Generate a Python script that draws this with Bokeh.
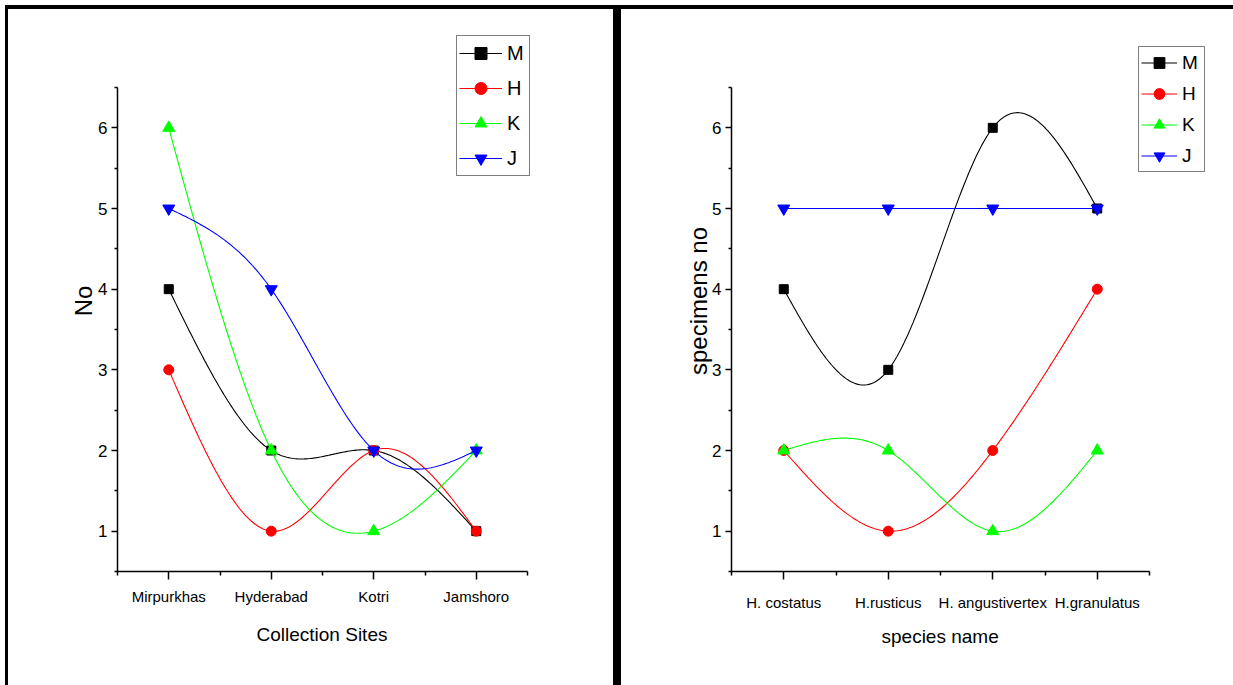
import numpy as np
from bokeh.plotting import figure
from bokeh.models import Legend, LegendItem, FixedTicker, Range1d, Div, Title
from bokeh.layouts import row, column
from bokeh.embed import file_html
from bokeh.resources import INLINE

# ---------------- data ----------------
sites = ["Mirpurkhas", "Hyderabad", "Kotri", "Jamshoro"]
species = ["H. costatus", "H.rusticus", "H. angustivertex", "H.granulatus"]
series_names = ["M", "H", "K", "J"]

site_M = [4, 2, 2, 1]
site_H = [3, 1, 2, 1]
site_K = [6, 2, 1, 2]
site_J = [5, 4, 2, 2]

species_M = [4, 3, 6, 5]
species_H = [2, 1, 2, 4]
species_K = [2, 2, 1, 2]
species_J = [5, 5, 5, 5]

y_ticks = [1, 2, 3, 4, 5, 6]

# ---------------- styles ----------------
COLORS = ["#000000", "#FF0000", "#00FF00", "#0000FF"]
MARKERS = ["square", "circle", "triangle", "inverted_triangle"]
SIZES = [9, 10, 12, 12]
FONT = "Liberation Sans"


def natural_spline(xs, ys, n=60):
    """Natural cubic spline through the data points (Origin's 'spline' connect)."""
    xs = np.asarray(xs, float)
    ys = np.asarray(ys, float)
    k = len(xs)
    h = np.diff(xs)
    A = np.zeros((k, k))
    b = np.zeros(k)
    A[0, 0] = 1
    A[-1, -1] = 1
    for i in range(1, k - 1):
        A[i, i - 1] = h[i - 1]
        A[i, i] = 2 * (h[i - 1] + h[i])
        A[i, i + 1] = h[i]
        b[i] = 6 * ((ys[i + 1] - ys[i]) / h[i] - (ys[i] - ys[i - 1]) / h[i - 1])
    M = np.linalg.solve(A, b)
    ox, oy = [], []
    for i in range(k - 1):
        t = np.linspace(0, 1, n)
        ox.extend(xs[i] + t * h[i])
        oy.extend((1 - t) * ys[i] + t * ys[i + 1]
                  + h[i] ** 2 / 6 * (((1 - t) ** 3 - (1 - t)) * M[i] + (t ** 3 - t) * M[i + 1]))
    return ox, oy


def make_panel(cats, series, xlabel, ylabel, width, height, ml, mr, mt, mb, x_end, y_end,
               leg_loc, leg_font, glyph_w, glyph_h, leg_spacing, xlab_standoff,
               xtitle_offset, xtitle_standoff, yaxis_label_standoff):
    p = figure(width=width, height=height,
               x_range=Range1d(0.5, x_end), y_range=Range1d(0.5, y_end),
               output_backend="svg", toolbar_location=None,
               min_border_left=ml, min_border_right=mr,
               min_border_top=mt, min_border_bottom=mb)
    p.outline_line_color = None
    p.xgrid.visible = False
    p.ygrid.visible = False
    p.background_fill_color = "white"
    p.border_fill_color = "white"

    xs = list(range(1, len(cats) + 1))
    p.xaxis.ticker = FixedTicker(ticks=xs, minor_ticks=[x - 0.5 for x in xs] + [xs[-1] + 0.5])
    p.xaxis.major_label_overrides = {x: c for x, c in zip(xs, cats)}
    p.xaxis.bounds = (0.5, len(cats) + 0.5)
    p.yaxis.ticker = FixedTicker(ticks=y_ticks,
                                 minor_ticks=[y - 0.5 for y in y_ticks] + [y_ticks[-1] + 0.5])
    p.yaxis.bounds = (0.5, y_ticks[-1] + 0.5)

    for ax in (p.xaxis[0], p.yaxis[0]):
        ax.axis_line_color = "black"
        ax.axis_line_width = 1.5
        ax.major_tick_line_color = "black"
        ax.minor_tick_line_color = "black"
        ax.major_tick_line_width = 1.5
        ax.minor_tick_line_width = 1.5
        ax.major_tick_in = 0
        ax.minor_tick_in = 0
        ax.major_label_text_font = FONT
        ax.major_label_text_color = "black"
        ax.axis_label_text_font = FONT
        ax.axis_label_text_font_style = "normal"
        ax.axis_label_text_color = "black"
    p.xaxis.major_tick_out = 8
    p.xaxis.minor_tick_out = 4
    p.yaxis.major_tick_out = 6
    p.yaxis.minor_tick_out = 3
    p.xaxis.major_label_text_font_size = "15px"
    p.yaxis.major_label_text_font_size = "17px"
    p.xaxis.major_label_standoff = xlab_standoff
    p.yaxis.major_label_standoff = 4

    # x-axis title placed under the axis line (the frame is wider than the axis)
    xt = Title(text=xlabel, align="left", offset=xtitle_offset, standoff=xtitle_standoff,
               text_font=FONT, text_font_size="19px", text_font_style="normal",
               text_color="black")
    p.add_layout(xt, "below")

    p.yaxis.axis_label = ylabel
    p.yaxis.axis_label_text_font_size = "24px"
    p.yaxis.axis_label_standoff = yaxis_label_standoff

    items = []
    for name, ys, col, mk, sz in zip(series_names, series, COLORS, MARKERS, SIZES):
        sx, sy = natural_spline(xs, ys)
        lr = p.line(sx, sy, line_color=col, line_width=1.1)
        sr = p.scatter(xs, ys, marker=mk, size=sz, fill_color=col, line_color=col)
        items.append(LegendItem(label=name, renderers=[lr, sr]))

    leg = Legend(items=items, location=leg_loc)
    leg.label_text_font = FONT
    leg.label_text_font_size = leg_font
    leg.label_text_color = "black"
    leg.glyph_width = glyph_w
    leg.glyph_height = glyph_h
    leg.label_height = glyph_h
    leg.spacing = leg_spacing
    leg.padding = 2
    leg.margin = 0
    leg.label_standoff = 5
    leg.border_line_color = "black"
    leg.border_line_width = 1
    leg.background_fill_color = "white"
    leg.background_fill_alpha = 1
    p.add_layout(leg, "center")
    return p


PX_PER_Y = (571 - 87) / 6.0
Y_END = 6.5 + (87 - 30) / PX_PER_Y
PX_PER_X_L = (527 - 117) / 4.0
X_END_L = 4.5 + 15 / PX_PER_X_L
PX_PER_X_R = (1149 - 731) / 4.0
X_END_R = 4.5 + (1210 - 1149) / PX_PER_X_R

PANEL_H = 676

left = make_panel(sites, [site_M, site_H, site_K, site_J],
                  "Collection Sites", "No",
                  width=605, height=PANEL_H, ml=109, mr=71, mt=21, mb=114,
                  x_end=X_END_L, y_end=Y_END,
                  leg_loc=(339, 395), leg_font="20px", glyph_w=43, glyph_h=30,
                  leg_spacing=5, xlab_standoff=8,
                  xtitle_offset=139, xtitle_standoff=28, yaxis_label_standoff=-2)

right = make_panel(species, [species_M, species_H, species_K, species_J],
                   "species name", "specimens no",
                   width=612, height=PANEL_H, ml=110, mr=23, mt=21, mb=114,
                   x_end=X_END_R, y_end=Y_END,
                   leg_loc=(407, 399), leg_font="19px", glyph_w=36, glyph_h=27,
                   leg_spacing=4, xlab_standoff=14,
                   xtitle_offset=150, xtitle_standoff=20, yaxis_label_standoff=-3)


def bar(w, h):
    return Div(text="", width=w, height=h, margin=0,
               styles={"background-color": "black"})


body = row(bar(3, PANEL_H), left, bar(8, PANEL_H), right, spacing=0)
layout = column(bar(1228, 4), body, spacing=0, margin=(5, 0, 0, 5))
open("out.html", "w").write(file_html(layout, INLINE))
